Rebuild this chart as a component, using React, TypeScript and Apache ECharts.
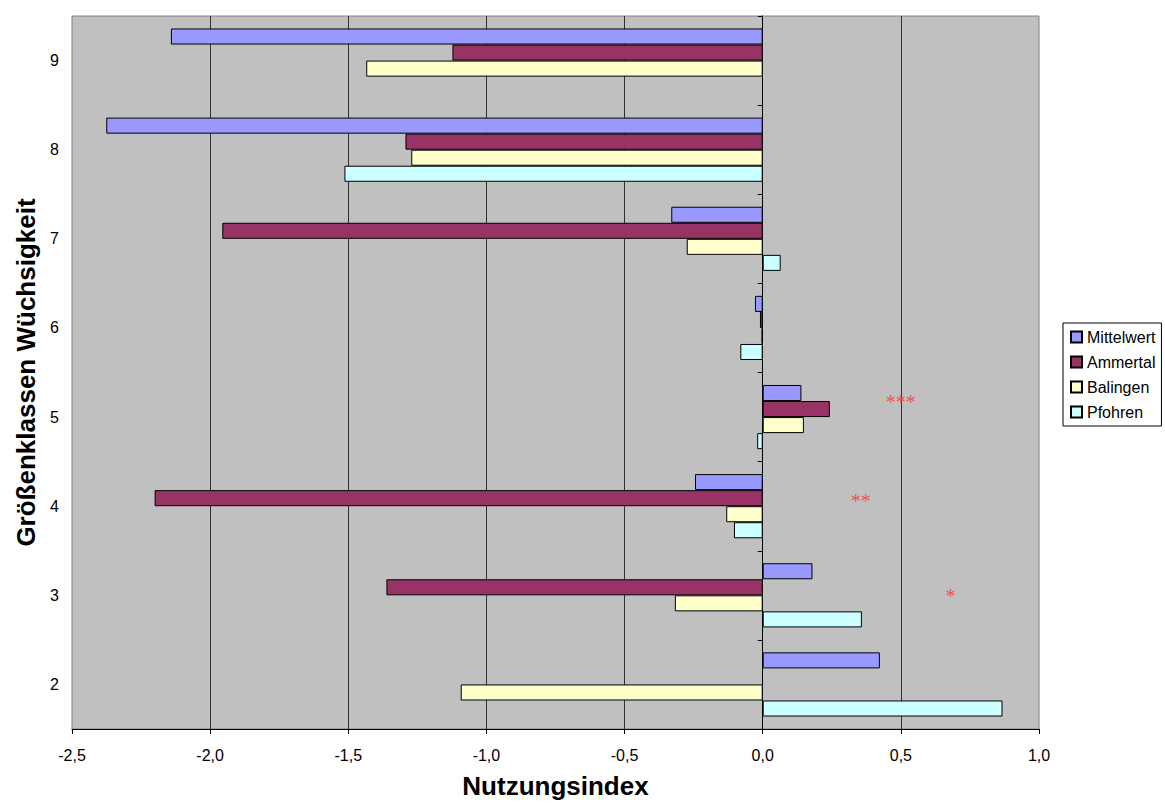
import React, { useEffect, useRef } from "react";
import * as echarts from "echarts";

// Size classes of vigour, listed top to bottom
const categories = ["9", "8", "7", "6", "5", "4", "3", "2"];

// Usage index per size class (same order as categories); null = no value
const mittelwert = [-2.142, -2.376, -0.331, -0.028, 0.14, -0.245, 0.18, 0.424];
const ammertal = [-1.123, -1.293, -1.956, -0.01, 0.243, -2.201, -1.362, null];
const balingen = [-1.435, -1.272, -0.275, -0.004, 0.149, -0.132, -0.318, -1.093];
const pfohren = [null, -1.514, 0.065, -0.081, -0.02, -0.104, 0.359, 0.868];

const seriesNames = ["Mittelwert", "Ammertal", "Balingen", "Pfohren"];
const seriesColors = ["#9999FF", "#993366", "#FFFFCC", "#CCFFFF"];

// Significance markers
const sigCategories = ["5", "4", "3"];
const sigX = [0.5, 0.355, 0.68];
const sigMarks = ["***", "**", "*"];
const sigOffsetY = [-15, -5, 1];

const xTickLabel = (v: number) => v.toFixed(1).replace(".", ",");

export default function App() {
  const ref = useRef<HTMLDivElement>(null);

  useEffect(() => {
    if (!ref.current) return;
    const chart = echarts.init(ref.current, null, { renderer: "svg" });
    const values = [mittelwert, ammertal, balingen, pfohren];

    const barSeries = seriesNames.map((name, i) => ({
      name,
      type: "bar",
      yAxisIndex: 0,
      data: values[i].map((v) => (v === null ? "-" : v)),
      barGap: "0%",
      barCategoryGap: "28%",
      itemStyle: { color: seriesColors[i], borderColor: "#000", borderWidth: 1 },
    }));

    const sigSeries = {
      type: "scatter",
      yAxisIndex: 0,
      symbolSize: 0,
      silent: true,
      data: sigCategories.map((c, i) => ({
        value: [sigX[i], c],
        label: {
          show: true,
          formatter: sigMarks[i],
          position: "inside",
          offset: [0, sigOffsetY[i]],
          color: "#FF3333",
          fontFamily: "Liberation Serif",
          fontSize: 20,
        },
      })),
    };

    chart.setOption({
      animation: false,
      backgroundColor: "#FFFFFF",
      grid: {
        left: 72,
        top: 16,
        right: 126,
        bottom: 74,
        outerBoundsMode: "none",
        show: true,
        backgroundColor: "#C0C0C0",
        borderColor: "#808080",
        borderWidth: 1,
      },
      legend: {
        orient: "vertical",
        left: 1063,
        top: 323,
        data: seriesNames.map((name) => ({ name, icon: "rect" })),
        itemWidth: 11,
        itemHeight: 11,
        itemGap: 9,
        padding: [6, 6, 6, 7],
        borderColor: "#000",
        borderWidth: 1,
        backgroundColor: "#FFFFFF",
        textStyle: { fontFamily: "Liberation Sans", fontSize: 16, color: "#000" },
      },
      xAxis: {
        type: "value",
        min: -2.5,
        max: 1.0,
        interval: 0.5,
        name: "Nutzungsindex",
        nameLocation: "middle",
        nameGap: 44,
        nameTextStyle: { fontFamily: "Liberation Sans", fontSize: 26, fontWeight: "bold", color: "#000" },
        axisLine: { show: true, onZero: false, lineStyle: { color: "#000", width: 1 } },
        axisTick: { show: true, length: 5, lineStyle: { color: "#000" } },
        axisLabel: {
          formatter: xTickLabel,
          fontFamily: "Liberation Sans",
          fontSize: 16,
          color: "#000",
          margin: 18,
        },
        splitLine: { show: true, showMinLine: false, showMaxLine: false, lineStyle: { color: "#303030", width: 1 } },
      },
      yAxis: [
        {
          type: "category",
          data: categories,
          inverse: true,
          position: "left",
          name: "Größenklassen Wüchsigkeit",
          nameLocation: "middle",
          nameGap: 30,
          nameTextStyle: { fontFamily: "Liberation Sans", fontSize: 26, fontWeight: "bold", color: "#000" },
          axisLine: { show: false, onZero: false },
          axisTick: { show: false },
          axisLabel: { fontFamily: "Liberation Sans", fontSize: 16, color: "#000", margin: 13 },
          splitLine: { show: false },
        },
        {
          type: "category",
          data: categories,
          inverse: true,
          position: "left",
          axisLine: { show: true, onZero: true, lineStyle: { color: "#000", width: 1 } },
          axisTick: { show: true, length: 5, lineStyle: { color: "#000" } },
          axisLabel: { show: false },
          splitLine: { show: false },
        },
      ],
      series: [...barSeries, sigSeries],
    });

    return () => chart.dispose();
  }, []);

  return (
    <div
      ref={ref}
      style={{ position: "fixed", left: 0, top: 0, width: 1165, height: 803 }}
    />
  );
}
